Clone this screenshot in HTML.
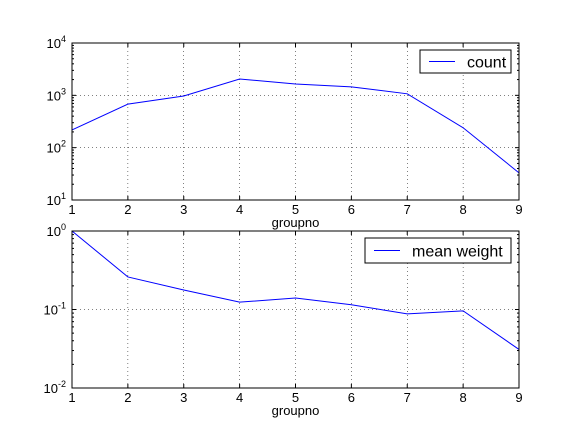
<!DOCTYPE html>
<html><head><meta charset="utf-8"><style>
html,body{margin:0;padding:0;background:#fff;}
svg{display:block;font-family:"Liberation Sans","DejaVu Sans",sans-serif;}
</style></head><body>
<svg id="chart" width="577" height="432"></svg>
<script>
const groups=[1,2,3,4,5,6,7,8,9];
const countValues=[218,680,970,2050,1650,1450,1070,240,33];
const weightValues=[1.0,0.26,0.177,0.124,0.14,0.115,0.088,0.096,0.031];
const xTicks=[1,2,3,4,5,6,7,8,9];
const countExps=[1,2,3,4];
const weightExps=[-2,-1,0];

const NS="http://www.w3.org/2000/svg";
const svg=document.getElementById('chart');
function mk(t,a,p){const e=document.createElementNS(NS,t);for(const k in a)e.setAttribute(k,a[k]);(p||svg).appendChild(e);return e;}
const X0=72,X1=519;
function xs(v){return X0+(v-1)/(8)*(X1-X0);}

function panel(name,top,bot,expMin,expMax,vals,label,legBox){
  const g=mk('g',{});
  
  
  const ys=v=>bot-(Math.log10(v)-expMin)/(expMax-expMin)*(bot-top);
  // grid
  xTicks.forEach(t=>{if(t>1&&t<9){const l=mk('line',{x1:xs(t),x2:xs(t),y1:top,y2:bot,stroke:'#000','stroke-width':0.5,'stroke-dasharray':'1,3'},g);}});
  for(let e=expMin+1;e<expMax;e++){const l=mk('line',{x1:X0,x2:X1,y1:ys(Math.pow(10,e)),y2:ys(Math.pow(10,e)),stroke:'#000','stroke-width':0.5,'stroke-dasharray':'1,3'},g);}
  // ticks
  xTicks.forEach(t=>{
    mk('line',{x1:xs(t),x2:xs(t),y1:bot,y2:bot-4,stroke:'#000'},g);
    mk('line',{x1:xs(t),x2:xs(t),y1:top,y2:top+4,stroke:'#000'},g);
    const tx=mk('text',{x:xs(t),y:bot+14,'text-anchor':'middle','font-size':13},g);tx.textContent=t;
    
  });
  for(let e=expMin;e<=expMax;e++){
    const y=ys(Math.pow(10,e));
    mk('line',{x1:X0,x2:X0+4,y1:y,y2:y,stroke:'#000'},g);
    mk('line',{x1:X1,x2:X1-4,y1:y,y2:y,stroke:'#000'},g);
    if(e<expMax)for(let m=2;m<10;m++){const ym=ys(m*Math.pow(10,e));
      mk('line',{x1:X0,x2:X0+2,y1:ym,y2:ym,stroke:'#000'},g);mk('line',{x1:X1,x2:X1-2,y1:ym,y2:ym,stroke:'#000'},g);}
    const tx=mk('text',{x:X0-6,y:y+5,'text-anchor':'end','font-size':13},g);
    
    tx.appendChild(document.createTextNode('10'));
    const sp=mk('tspan',{dy:-6,'font-size':9},tx);sp.textContent=String(e);
  }
  // line
  const d=vals.map((v,i)=>(i?'L':'M')+xs(groups[i])+','+ys(v)).join(' ');
  const p=mk('path',{d:d,fill:'none',stroke:'#0000ff','stroke-width':1},g);
  
  mk('rect',{x:X0,y:top,width:X1-X0,height:bot-top,fill:'none',stroke:'#000','stroke-width':1},g);
  const xl=mk('text',{x:(X0+X1)/2,y:bot+27,'text-anchor':'middle','font-size':13},g);xl.textContent='groupno';
  
  // legend
  const lg=mk('g',{},g);
  mk('rect',{x:legBox[0],y:legBox[1],width:legBox[2],height:legBox[3],fill:'#fff',stroke:'#000'},lg);
  const my=legBox[1]+legBox[3]/2;
  mk('line',{x1:legBox[0]+9,x2:legBox[0]+35,y1:my,y2:my,stroke:'#0000ff'},lg);
  const lt=mk('text',{x:legBox[0]+47,y:my+6,'font-size':16},lg);lt.textContent=label;
  
}
panel('count',43,200,1,4,countValues,'count',[420,50,91,23]);
panel('mean-weight',231,388,-2,0,weightValues,'mean weight',[365,238,146,25]);
</script>
</body></html>
